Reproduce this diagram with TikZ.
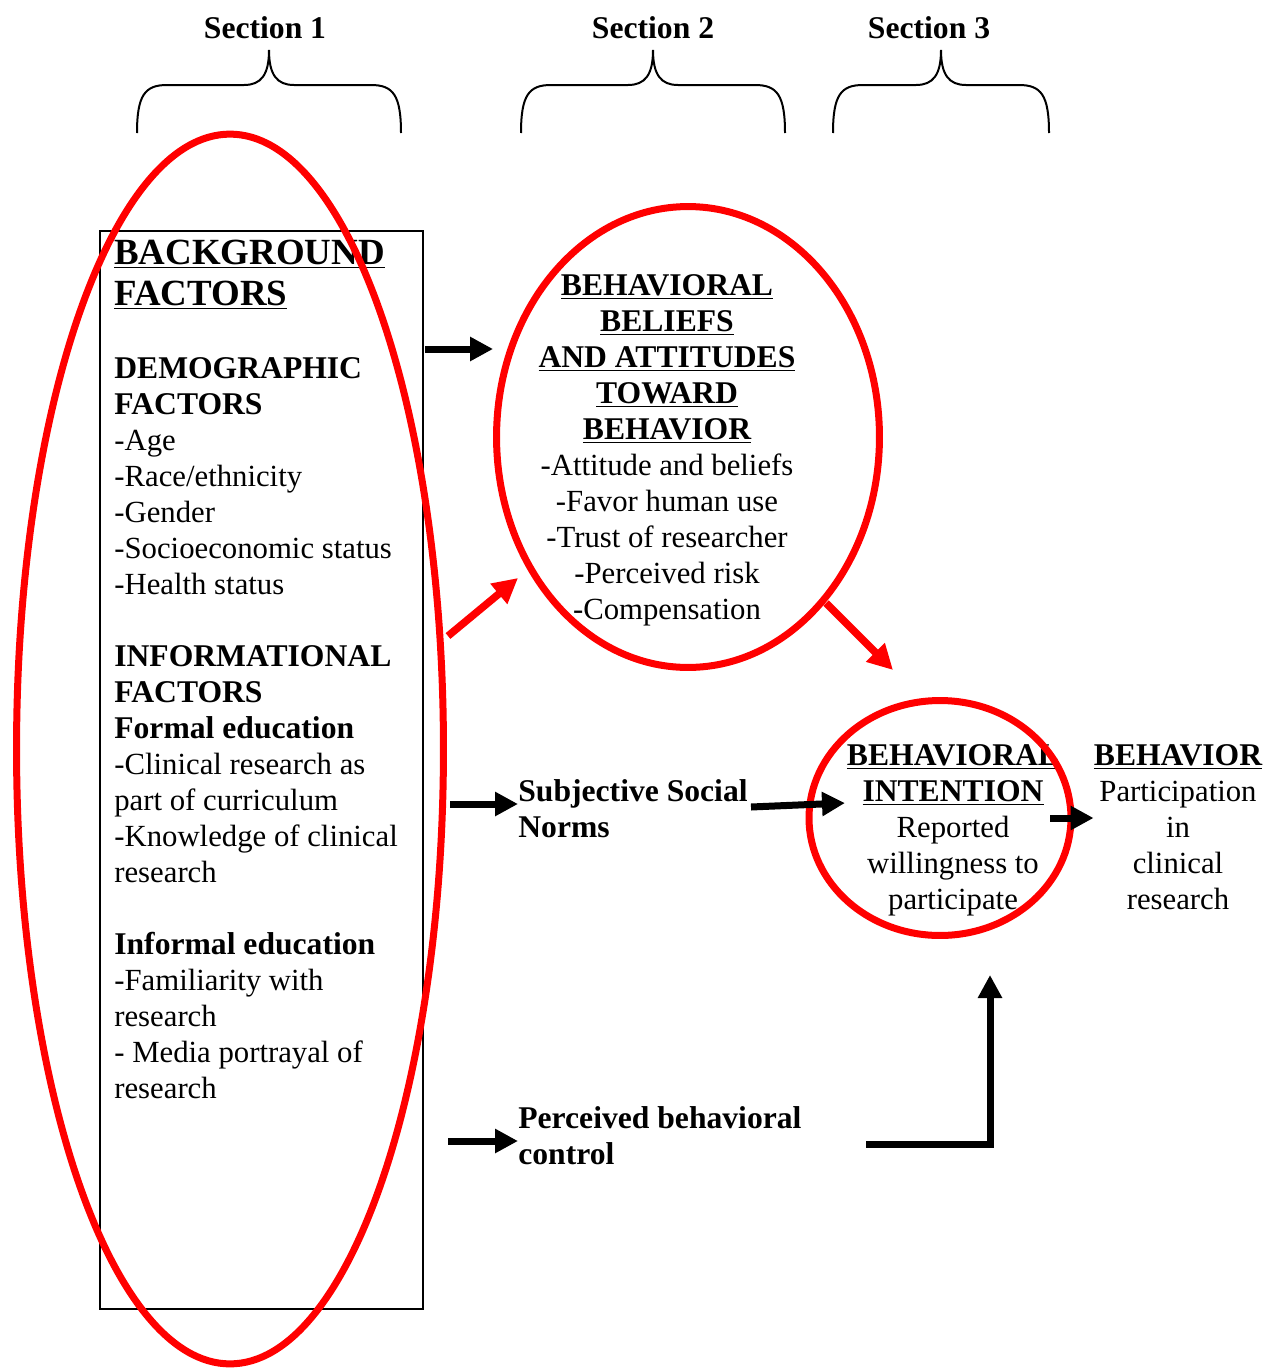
\documentclass[tikz,border=0pt]{standalone}
\usepackage{fontspec}
\setmainfont{Liberation Serif}
\usetikzlibrary{arrows.meta,shapes.geometric}
\newcommand\bodyfont{\fontsize{17.5}{20.5}\selectfont}
\newcommand\hdfont{\bfseries\fontsize{18}{20.5}\selectfont}
\newcommand\hd[1]{{\hdfont #1}}
\newcommand\uhd[1]{\hd{\underline{#1}}}
\def\secbrace(#1,#2,#3){\draw[bracestroke] (#1,133) .. controls (#1,95) and (#1+8,85) .. (#1+30,85) -- (#2-25,85) .. controls (#2-8,85) and (#2,75) .. (#2,50) .. controls (#2,75) and (#2+8,85) .. (#2+25,85) -- (#3-30,85) .. controls (#3-8,85) and (#3,95) .. (#3,133);}

\begin{document}
\begin{tikzpicture}[x=0.02cm,y=-0.02cm,
		bracestroke/.style={line width=0.04cm},
		ring/.style={draw=red, line width=0.14cm, ellipse, inner sep=0pt},
		flowarrow/.style={line width=0.14cm, line join=miter, -{Triangle[length=0.46cm,width=0.46cm]}},
		riskarrow/.style={flowarrow, red, line width=0.15cm, -{Triangle[length=0.5cm,width=0.5cm]}},
		block/.style={inner sep=0pt, font=\bodyfont}]
		%%%%% START %%%%%
		\useasboundingbox (0,0) rectangle (1268,1369);
		
		\node[anchor=base, font=\hdfont] (sec1) at (265,38) {Section 1};
		\node[anchor=base, font=\hdfont] (sec2) at (653,38) {Section 2};
		\node[anchor=base, font=\hdfont] (sec3) at (929,38) {Section 3};
		\secbrace(137,269,401)
		\secbrace(521,653,785)
		\secbrace(833,941,1049)
		
		\node[draw, line width=0.04cm, anchor=north west, minimum width=6.46cm, minimum height=21.56cm] (bgbox) at (99,230) {};
		\node[block, anchor=north west, align=left, font={\bfseries\fontsize{21}{23.3}\selectfont}] (bgtitle) at (114,240) {\underline{BACKGROUND}\\\underline{FACTORS}};
		\node[block, anchor=north west, align=left] (bgbody) at (114,357) {\hd{DEMOGRAPHIC}\\\hd{FACTORS}\\-Age\\-Race/ethnicity\\-Gender\\-Socioeconomic status\\-Health status\\[20.5pt]
			\hd{INFORMATIONAL}\\\hd{FACTORS}\\\hd{Formal education}\\-Clinical research as\\part of curriculum\\-Knowledge of clinical\\research\\[20.5pt]
			\hd{Informal education}\\-Familiarity with\\research\\- Media portrayal of\\research};
		
		\node[block, anchor=north, align=center] (beliefs) at (667,274) {\uhd{BEHAVIORAL}\\\uhd{BELIEFS}\\\uhd{AND ATTITUDES}\\\uhd{TOWARD}\\\uhd{BEHAVIOR}\\-Attitude and beliefs\\-Favor human use\\-Trust of researcher\\-Perceived risk\\-Compensation};
		\node[block, anchor=north west, align=left] (norms) at (518,779) {\hd{Subjective Social}\\\hd{Norms}};
		\node[block, anchor=north west, align=left] (control) at (518,1106) {\hd{Perceived behavioral}\\\hd{control}};
		\node[block, anchor=north, align=center] (intent) at (953,744) {\uhd{BEHAVIORAL}\\\uhd{INTENTION}\\Reported\\willingness to\\participate};
		\node[block, anchor=north, align=center] (behavior) at (1178,744) {\uhd{BEHAVIOR}\\Participation\\in\\clinical\\research};
		
		\node[ring, minimum width=8.54cm, minimum height=24.6cm] (bgring) at (230,749) {};
		\node[ring, minimum width=7.66cm, minimum height=9.22cm] (beliefsring) at (688,437) {};
		\node[ring, minimum width=5.24cm, minimum height=4.7cm] (intentring) at (940,818) {};
		
		\coordinate (beliefsTail) at (425,349);
		\coordinate (normsTail) at (450,804);
		\coordinate (controlTail) at (448,1141);
		\coordinate (intentTail) at (751,807);
		\coordinate (intentTip) at (845,803);
		\coordinate (behavTail) at (1050,818);
		\coordinate (controlBend) at (866,1144);
		\coordinate (controlTip) at (990,975);
		\coordinate (redTailA) at (448,636);
		\coordinate (redTipA) at (518,578);
		\coordinate (redTailB) at (826,603);
		\coordinate (redTipB) at (893,670);
		
		\draw[flowarrow] (beliefsTail) -- (beliefsTail -| beliefsring.west);
		\draw[flowarrow] (normsTail) -- (normsTail -| norms.west);
		\draw[flowarrow] (controlTail) -- (controlTail -| control.west);
		\draw[flowarrow] (intentTail) -- (intentTip);
		\draw[flowarrow] (behavTail) -- (behavTail -| behavior.west);
		\draw[flowarrow] (controlBend) -| (controlTip);
		\draw[riskarrow] (redTailA) -- (redTipA);
		\draw[riskarrow] (redTailB) -- (redTipB);
		%%%%% END %%%%%
	\end{tikzpicture}
\end{document}
